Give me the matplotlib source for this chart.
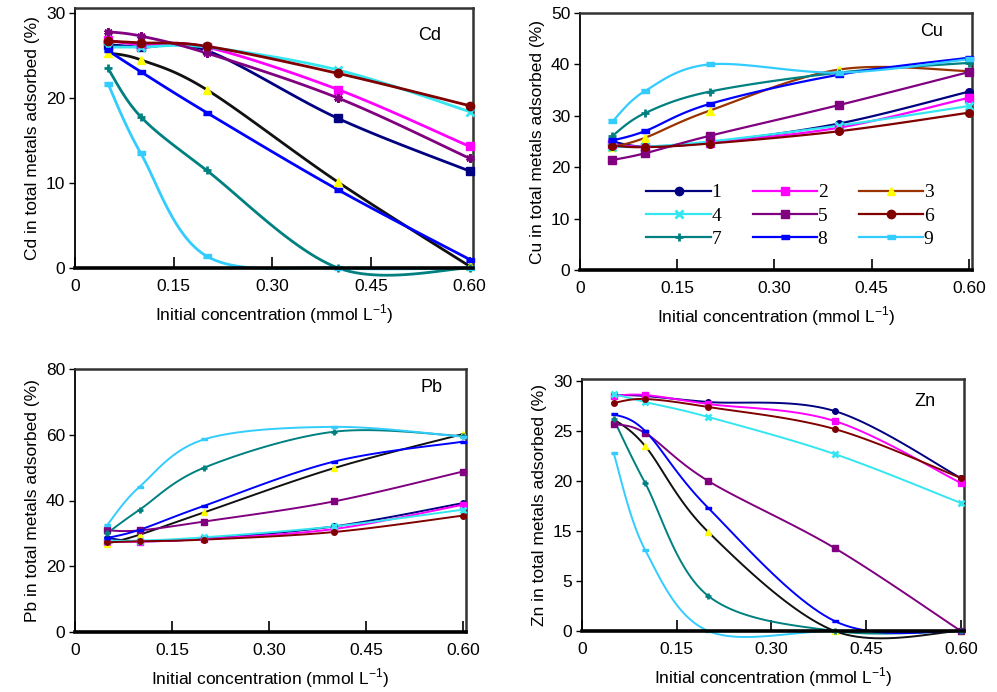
import numpy as np
import matplotlib
matplotlib.use('Agg')
import matplotlib.pyplot as plt
from matplotlib.lines import Line2D

plt.rcParams['font.family'] = 'Liberation Sans'
plt.rcParams['mathtext.fontset'] = 'custom'
plt.rcParams['mathtext.rm'] = 'Liberation Sans'

conc = [0.05, 0.1, 0.2, 0.4, 0.6]
names = ['1', '2', '3', '4', '5', '6', '7', '8', '9']

# % of each metal in total metals adsorbed, series 1..9
cd = [
    [26.3, 26.0, 25.6, 17.6, 11.4],
    [26.8, 26.3, 26.0, 21.0, 14.3],
    [25.3, 24.5, 21.0, 10.1, 0.2],
    [26.0, 26.0, 26.0, 23.3, 18.4],
    [27.8, 27.3, 25.3, 20.0, 12.9],
    [26.7, 26.5, 26.1, 22.9, 19.1],
    [23.5, 17.8, 11.5, 0.0, 0.0],
    [25.6, 23.1, 18.3, 9.2, 1.0],
    [21.7, 13.5, 1.4, 0.0, 0.0],
]
cu = [
    [25.0, 24.0, 24.8, 28.5, 34.7],
    [24.5, 24.0, 24.8, 27.7, 33.5],
    [23.9, 25.7, 31.0, 39.0, 38.7],
    [24.0, 24.0, 25.0, 28.1, 31.9],
    [21.4, 22.7, 26.1, 32.1, 38.5],
    [24.2, 23.9, 24.6, 27.0, 30.6],
    [26.1, 30.5, 34.7, 38.4, 40.3],
    [25.2, 27.0, 32.3, 38.0, 41.3],
    [28.9, 34.8, 40.0, 38.4, 41.0],
]
pb = [
    [28.6, 27.6, 28.4, 32.1, 39.2],
    [27.5, 27.5, 28.3, 31.3, 38.7],
    [26.9, 29.6, 36.4, 49.8, 60.2],
    [27.8, 27.8, 28.8, 32.1, 37.2],
    [30.9, 30.9, 33.6, 39.7, 48.8],
    [27.3, 27.6, 28.1, 30.4, 35.4],
    [30.1, 37.2, 50.0, 60.9, 59.6],
    [28.6, 31.1, 38.4, 51.8, 57.9],
    [32.6, 44.2, 58.6, 62.4, 59.4],
]
# Zn values on the printed axis (its tick labels skip "10")
zn = [
    [23.6, 23.5, 22.9, 22.0, 15.3],
    [23.5, 23.6, 22.7, 21.0, 14.8],
    [21.2, 18.5, 9.9, 0.0, 0.0],
    [23.7, 22.9, 21.4, 17.7, 12.8],
    [20.7, 19.8, 15.0, 8.3, 0.0],
    [22.8, 23.2, 22.4, 20.2, 15.3],
    [21.2, 14.8, 3.5, 0.0, 0.0],
    [21.7, 20.0, 12.3, 1.0, 0.0],
    [17.8, 8.1, 0.0, 0.0, 0.0],
]
zn_ticks = [0, 5, 10, 15, 20, 25]
zn_ticklabels = ['0', '5', '15', '20', '25', '30']

line_colors = ['#000080', '#ff00ff', '#111111', '#33e6f0', '#800080',
               '#800000', '#008080', '#0000ff', '#33ccff']
marker_colors = ['#000080', '#ff00ff', '#ffff00', '#33e6f0', '#800080',
                 '#800000', '#008080', '#0000ff', '#33ccff']
dash = [(-1, -0.45), (1, -0.45), (1, 0.45), (-1, 0.45)]
markers = ['o', 's', '^', 'x', 's', 'o', '+', dash, dash]


def smooth(x, y, n=25):
    # excel style smoothed line through the points
    p = np.column_stack([x, y]).astype(float)
    out = []
    for i in range(len(p) - 1):
        p0 = p[i - 1] if i > 0 else p[i]
        p1, p2 = p[i], p[i + 1]
        p3 = p[i + 2] if i + 2 < len(p) else p[i + 1]
        c1 = p1 + (p2 - p0) / 6
        c2 = p2 - (p3 - p1) / 6
        t = np.linspace(0, 1, n)[:, None]
        seg = (1 - t) ** 3 * p1 + 3 * (1 - t) ** 2 * t * c1 + 3 * (1 - t) * t ** 2 * c2 + t ** 3 * p2
        out.append(seg if i == 0 else seg[1:])
    out = np.vstack(out)
    return out[:, 0], out[:, 1]


W, H = 997, 692
fig = plt.figure(figsize=(W / 100, H / 100), dpi=100)


def make_ax(l, t, r, b):
    return fig.add_axes([l / W, 1 - b / H, (r - l) / W, (b - t) / H])


panels = [
    ('Cd', cd, (75, 8, 473, 268), 30.6, 10, 2.0, 6),
    ('Cu', cu, (580, 13, 972, 270), 50, 10, 1.6, 5.5),
    ('Pb', pb, (75, 369, 466, 632), 80, 20, 1.4, 4),
    ('Zn', zn, (582, 379, 964, 631), 25.2, 5, 1.4, 4),
]
label_pos = {'Cd': (430, 35), 'Cu': (932, 32), 'Pb': (432, 388), 'Zn': (925, 401)}

for name, data, box, ytop, ystep, lw, ms in panels:
    ax = make_ax(*box)
    for i, vals in enumerate(data):
        mk = markers[i]
        lc = line_colors[i]
        if name == 'Cd' and i == 0:
            mk = 's'
        if name == 'Cd' and i == 4:
            mk = (6, 2, 0)
        if name == 'Cu' and i == 2:
            lc = '#993300'
        sx, sy = smooth(conc, vals)
        ax.plot(sx, sy, color=lc, lw=lw, clip_on=False, zorder=2 + i * 0.1)
        ax.plot(conc, vals, ls='none', marker=mk, ms=ms, color=marker_colors[i],
                mec=marker_colors[i], mew=2 if mk in ('x', '+', (6, 2, 0)) else 1,
                clip_on=False, zorder=3 + i * 0.1)
    ax.set_xlim(0, 0.605)
    ax.set_ylim(0, ytop)
    ax.set_xticks([0, 0.15, 0.30, 0.45, 0.60])
    ax.set_xticklabels(['0', '0.15', '0.30', '0.45', '0.60'])
    if name == 'Zn':
        ax.set_yticks(zn_ticks)
        ax.set_yticklabels(zn_ticklabels)
    else:
        ax.set_yticks(np.arange(0, ytop + 0.01, ystep))
    ax.tick_params(axis='x', direction='in', length=8, width=1.2, pad=8, labelsize=12.5)
    ax.tick_params(axis='y', direction='out', length=4, width=1, pad=3, labelsize=12.5)
    for s in ['top', 'right']:
        ax.spines[s].set_color('#333333')
        ax.spines[s].set_linewidth(1.8)
    ax.spines['left'].set_linewidth(1.3)
    ax.spines['bottom'].set_linewidth(2.6)
    ax.spines['bottom'].set_zorder(10)
    ax.set_xlabel('Initial concentration (mmol L$^{\\mathregular{-1}}$)', fontsize=12.5, labelpad=6)
    ax.set_ylabel(name + ' in total metals adsorbed (%)', fontsize=12.5, labelpad=4)
    lx, ly = label_pos[name]
    fig.text(lx / W, 1 - ly / H, name, fontsize=13, ha='center', va='center')

    if name == 'Cu':
        handles = []
        for i in range(9):
            lc = '#993300' if i == 2 else line_colors[i]
            handles.append(Line2D([], [], color=lc, lw=1.6, marker=markers[i], ms=6,
                                  mfc=marker_colors[i], mec=marker_colors[i],
                                  mew=2 if markers[i] in ('x', '+') else 1))
        order = [0, 3, 6, 1, 4, 7, 2, 5, 8]
        ax.legend([handles[k] for k in order], [names[k] for k in order], ncol=3,
                  loc='center', bbox_to_anchor=((790 - 580) / 392, (270 - 216) / 257),
                  frameon=False, prop={'family': 'Liberation Serif', 'size': 14},
                  handlelength=3.3, handletextpad=0.05, columnspacing=1.6,
                  labelspacing=0.3)

fig.savefig('out.png', dpi=100)
